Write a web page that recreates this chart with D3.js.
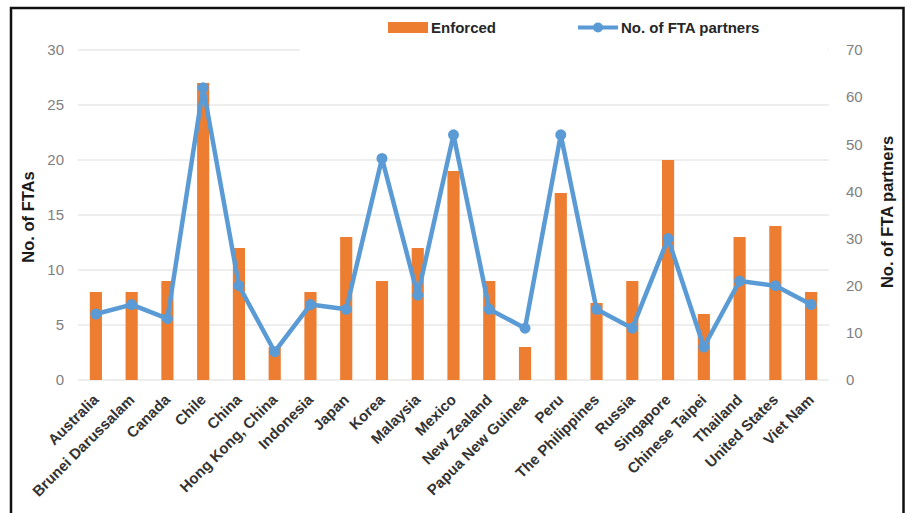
<!DOCTYPE html>
<html>
<head>
<meta charset="utf-8">
<script src="https://cdn.jsdelivr.net/npm/d3@7/dist/d3.min.js"></script>
<style>
  html, body { margin: 0; padding: 0; background: #fff; }
  svg { display: block; }
</style>
</head>
<body>
<svg id="chart" width="911" height="513"></svg>
<script>
// APEC economies: enforced FTAs (bars, left axis) and FTA partners (line, right axis)
const economies = ["Australia", "Brunei Darussalam", "Canada", "Chile", "China",
  "Hong Kong, China", "Indonesia", "Japan", "Korea", "Malaysia", "Mexico",
  "New Zealand", "Papua New Guinea", "Peru", "The Philippines", "Russia",
  "Singapore", "Chinese Taipei", "Thailand", "United States", "Viet Nam"];
const enforced = [8, 8, 9, 27, 12, 3, 8, 13, 9, 12, 19, 9, 3, 17, 7, 9, 20, 6, 13, 14, 8];
const partners = [14, 16, 13, 62, 20, 6, 16, 15, 47, 18, 52, 15, 11, 52, 15, 11, 30, 7, 21, 20, 16];
const leftTicks = [0, 5, 10, 15, 20, 25, 30];
const rightTicks = [0, 10, 20, 30, 40, 50, 60, 70];
const legendLabels = ["Enforced", "No. of FTA partners"];

const ORANGE = "#ED7D31", BLUE = "#5B9BD5";
const FONT = "'Liberation Sans', Arial, sans-serif";
const svg = d3.select("#chart");
const plot = { left: 78, right: 829, top: 50, bottom: 380 };

const x = d3.scaleBand().domain(economies).range([plot.left, plot.right]).paddingInner(0.66).paddingOuter(0.33);
const xc = d => x(d) + x.bandwidth() / 2;
const yL = d3.scaleLinear().domain([0, 30]).range([plot.bottom, plot.top]);
const yR = d3.scaleLinear().domain([0, 70]).range([plot.bottom, plot.top]);

// frame around the figure
svg.append("path")
  .attr("d", "M11,513 V8 H903.5 V513")
  .attr("fill", "none").attr("stroke", "#111").attr("stroke-width", 2.5);

// gridlines
svg.append("g").selectAll("line").data(leftTicks).join("line")
  .attr("x1", plot.left).attr("x2", plot.right)
  .attr("y1", d => yL(d)).attr("y2", d => yL(d))
  .attr("stroke", "#dedede").attr("stroke-width", 1.2);

// left axis labels
const leftAxis = svg.append("g").attr("transform", `translate(${plot.left - 14},0)`)
  .call(d3.axisLeft(yL).tickValues(leftTicks).tickSize(0).tickPadding(0));
leftAxis.select(".domain").remove();
leftAxis.selectAll("text").attr("fill", "#7f7f7f").attr("font-size", 15).attr("font-family", FONT);

// right axis labels
const rightAxis = svg.append("g").attr("transform", `translate(${plot.right + 17},0)`)
  .call(d3.axisRight(yR).tickValues(rightTicks).tickSize(0).tickPadding(0));
rightAxis.select(".domain").remove();
rightAxis.selectAll("text").attr("fill", "#7f7f7f").attr("font-size", 15).attr("font-family", FONT);

// bottom axis labels, rotated
const bottomAxis = svg.append("g").attr("transform", `translate(0,${plot.bottom})`)
  .call(d3.axisBottom(x).tickSize(0).tickPadding(0));
bottomAxis.select(".domain").remove();
bottomAxis.selectAll("text")
  .attr("text-anchor", "end")
  .attr("transform", "translate(0,17) rotate(-45)")
  .attr("dy", "0.35em")
  .attr("fill", "#333").attr("font-size", 15).attr("font-weight", "bold")
  .attr("font-family", FONT);

// axis titles
svg.append("text").attr("transform", `translate(34,217) rotate(-90)`)
  .attr("text-anchor", "middle").attr("font-size", 16.5).attr("font-weight", "bold")
  .attr("fill", "#1a1a1a").attr("font-family", FONT)
  .text("No. of FTAs");
svg.append("text").attr("transform", `translate(893,212) rotate(-90)`)
  .attr("text-anchor", "middle").attr("font-size", 16.5).attr("font-weight", "bold")
  .attr("fill", "#1a1a1a").attr("font-family", FONT)
  .text("No. of FTA partners");

// bars
svg.append("g").selectAll("rect").data(economies).join("rect")
  .attr("x", d => x(d)).attr("width", x.bandwidth())
  .attr("y", (d, i) => yL(enforced[i]))
  .attr("height", (d, i) => yL(0) - yL(enforced[i]))
  .attr("fill", ORANGE);

// partners line with markers
const line = d3.line().x((d, i) => xc(economies[i])).y(d => yR(d));
svg.append("path").datum(partners).attr("d", line)
  .attr("fill", "none").attr("stroke", BLUE).attr("stroke-width", 4.5)
  .attr("stroke-linejoin", "round");
svg.append("g").selectAll("circle").data(partners).join("circle")
  .attr("cx", (d, i) => xc(economies[i])).attr("cy", d => yR(d)).attr("r", 5.5)
  .attr("fill", BLUE);

// legend (white box over the top of the plot)
const lg = svg.append("g");
lg.append("rect").attr("x", 300).attr("y", 14).attr("width", 528).attr("height", 44).attr("fill", "#fff");
lg.append("rect").attr("x", 388).attr("y", 22).attr("width", 40).attr("height", 11).attr("fill", ORANGE);
lg.append("text").attr("x", 431).attr("y", 33).text(legendLabels[0]);
lg.append("line").attr("x1", 578).attr("x2", 618).attr("y1", 27.5).attr("y2", 27.5)
  .attr("stroke", BLUE).attr("stroke-width", 4);
lg.append("circle").attr("cx", 598).attr("cy", 27.5).attr("r", 5).attr("fill", BLUE);
lg.append("text").attr("x", 621).attr("y", 33).text(legendLabels[1]);
lg.selectAll("text").attr("font-size", 15).attr("font-weight", "bold").attr("fill", "#262626")
  .attr("font-family", "'Liberation Sans Narrow', 'Arial Narrow', sans-serif");
</script>
</body>
</html>
